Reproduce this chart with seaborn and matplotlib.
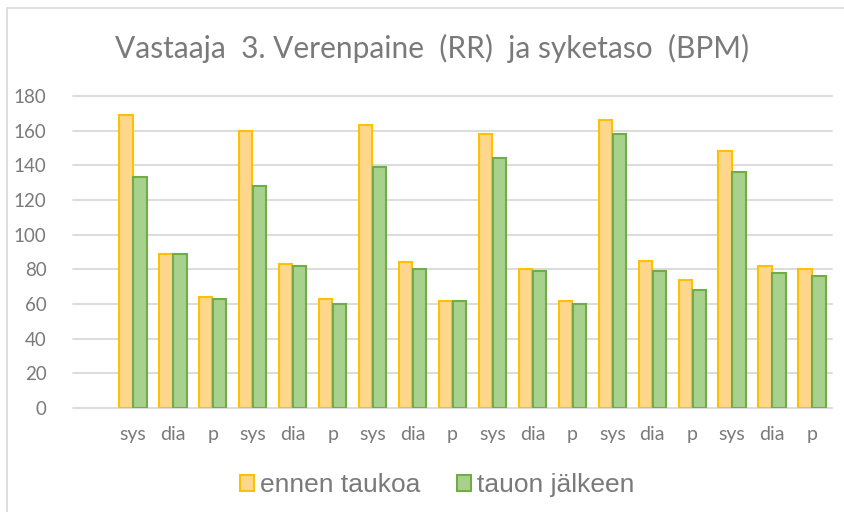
import matplotlib
matplotlib.use("Agg")
import matplotlib.pyplot as plt
import seaborn as sns
import pandas as pd
from matplotlib.patches import Rectangle, Patch

categories = ["sys", "dia", "p"] * 6
ennen_taukoa = [169, 89, 64, 160, 83, 63, 163, 84, 62, 158, 80, 62, 166, 85, 74, 148, 82, 80]
tauon_jalkeen = [133, 89, 63, 128, 82, 60, 139, 80, 62, 144, 79, 60, 158, 79, 68, 136, 78, 76]
series_names = ["ennen taukoa", "tauon jälkeen"]
title = "Vastaaja  3. Verenpaine  (RR)  ja syketaso  (BPM)"
yticks = [0, 20, 40, 60, 80, 100, 120, 140, 160, 180]

fills = ["#FFD78C", "#A9D18E"]
edges = ["#FFC000", "#70AD47"]
gray = "#7A7A7A"

n = len(categories)
df = pd.DataFrame({
    "pos": list(range(n)) * 2,
    "value": ennen_taukoa + tauon_jalkeen,
    "series": [series_names[0]] * n + [series_names[1]] * n,
})

sns.set_style("white")
fig = plt.figure(figsize=(8.44, 5.12), dpi=100)
ax = fig.add_axes([73 / 844, 1 - 408 / 512, (832 - 73) / 844, (408 - 96) / 512])

sns.barplot(data=df, x="pos", y="value", hue="series", order=list(range(n)),
            hue_order=series_names, palette=fills, width=0.7, gap=0.05,
            saturation=1, legend=False, ax=ax)

for i, container in enumerate(ax.containers):
    for bar in container:
        bar.set_edgecolor(edges[i])
        bar.set_linewidth(1.5)
        bar.set_zorder(3)

ax.set_xlim(-1.5, n - 0.5)
ax.set_ylim(0, 180)
ax.set_yticks(yticks)
ax.set_yticklabels([str(v) for v in yticks], fontsize=13.5, color=gray, family="Lato")
ax.set_xticks(range(n))
ax.set_xticklabels(categories, fontsize=14, color=gray, family="Lato")
ax.tick_params(axis="both", length=0)
ax.tick_params(axis="y", pad=19)
ax.tick_params(axis="x", pad=13)
ax.set_xlabel("")
ax.set_ylabel("")
for s in ax.spines.values():
    s.set_visible(False)
for v in yticks:
    ax.axhline(v, color="#D9D9D9", lw=1.3, zorder=1, clip_on=False)

fig.text(432 / 844, 1 - 48 / 512, title, ha="center", va="center",
         fontsize=21.5, color=gray, family="Lato")

handles = [Patch(facecolor=fills[i], edgecolor=edges[i], linewidth=1.5, label=series_names[i])
           for i in range(2)]
fig.legend(handles=handles, loc="center", bbox_to_anchor=(437 / 844, 1 - 485 / 512),
           ncol=2, frameon=False, labelcolor=gray,
           handlelength=0.55, handleheight=0.55, handletextpad=0.2, columnspacing=1.4,
           prop={"family": "Liberation Sans", "size": 19})

fig.patches.append(Rectangle((7 / 844, -0.01), 1.0, 1 - 8 / 512 + 0.01, transform=fig.transFigure,
                             fill=False, edgecolor="#D9D9D9", lw=1.2))

fig.savefig("out.png", dpi=100)
